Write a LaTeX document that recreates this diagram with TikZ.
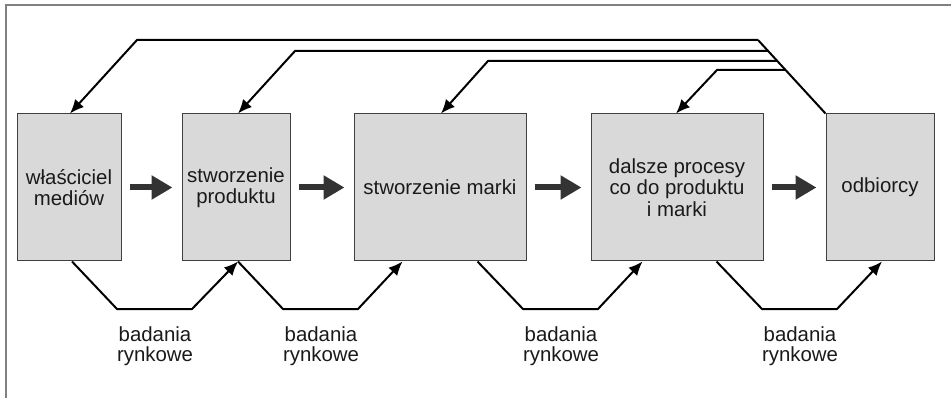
\documentclass[tikz,border=0pt]{standalone}
\usepackage{fontspec}
\setmainfont{Liberation Sans}
\usetikzlibrary{arrows.meta,calc}
\definecolor{boxfill}{HTML}{D9D9D9}
\definecolor{boxline}{HTML}{404040}
\definecolor{bigarr}{HTML}{333333}
\definecolor{framegray}{HTML}{808080}
\definecolor{txt}{HTML}{1A1A1A}
\begin{document}
\begin{tikzpicture}[x=1pt,y=-1pt,
  box/.style={draw=boxline,line width=1pt,fill=boxfill,minimum height=147pt,inner sep=0pt,
    align=center,text=txt,font=\fontsize{20.4}{21.5}\selectfont},
  bigarrow/.style={draw=bigarr,line width=6pt,-{Triangle[length=21pt,width=23pt]},shorten <=8pt,shorten >=9pt},
  feed/.style={draw=black,line width=2pt,line join=miter},
  feedarrow/.style={feed,-{Latex[length=14pt,width=12pt]}},
  lab/.style={align=center,text=txt,font=\fontsize{20.4}{20.5}\selectfont,inner sep=0pt}]
\useasboundingbox (0,0) rectangle (951,398);
% frame
\draw[framegray,line width=2pt] (951,5) -- (6,5) -- (6,398);
% boxes
\node[box,minimum width=104pt] (b1) at (69,187.5) {właściciel\\mediów};
\node[box,minimum width=108pt] (b2) at (236,187.5) {stworzenie\\produktu};
\node[box,minimum width=172pt] (b3) at (440,187.5) {stworzenie marki};
\node[box,minimum width=172pt] (b4) at (677,187.5) {dalsze procesy\\co do produktu\\i marki};
\node[box,minimum width=108pt] (b5) at (880,187.5) {odbiorcy};
% big arrows
\draw[bigarrow] (b1.east) -- (b2.west);
\draw[bigarrow] (b2.east) -- (b3.west);
\draw[bigarrow] (b3.east) -- (b4.west);
\draw[bigarrow] (b4.east) -- (b5.west);
% feedback lines from b5
\coordinate (d0) at (758,40);
\coordinate (d1) at (768,51);
\coordinate (d2) at (777,61);
\coordinate (d3) at (785.5,70);
\coordinate (k1) at (137,40);
\coordinate (k2) at (295,51);
\coordinate (k3) at (488,61);
\coordinate (k4) at (717,70);
\draw[feed] (b5.north west) -- (d0);
\draw[feedarrow] (d0) -- (k1) -- ([xshift=1pt]b1.north);
\draw[feedarrow] (d1) -- (k2) -- ([xshift=2pt]b2.north);
\draw[feedarrow] (d2) -- (k3) -- ([xshift=1pt]b3.north);
\draw[feedarrow] (d3) -- (k4) -- ([xshift=-1pt]b4.north);
% market research loops
\coordinate (l1a) at (117,309); \coordinate (l1b) at (192,309);
\coordinate (l2a) at (283,309); \coordinate (l2b) at (358,309);
\coordinate (l3a) at (523,309); \coordinate (l3b) at (598,309);
\coordinate (l4a) at (762,309); \coordinate (l4b) at (837,309);
\draw[feedarrow] ([xshift=3pt]b1.south) -- (l1a) -- (l1b) -- ([xshift=2pt]b2.south);
\draw[feedarrow] ([xshift=2pt]b2.south) -- (l2a) -- (l2b) -- ([xshift=49pt]b3.south west);
\draw[feedarrow] ([xshift=124pt]b3.south west) -- (l3a) -- (l3b) -- ([xshift=52pt]b4.south west);
\draw[feedarrow] ([xshift=126pt]b4.south west) -- (l4a) -- (l4b) -- ([xshift=2pt]b5.south);
% labels
\node[lab] (t1) at (155,346) {badania\\rynkowe};
\node[lab] (t2) at (321,346) {badania\\rynkowe};
\node[lab] (t3) at (561,346) {badania\\rynkowe};
\node[lab] (t4) at (800,346) {badania\\rynkowe};
\end{tikzpicture}
\end{document}
